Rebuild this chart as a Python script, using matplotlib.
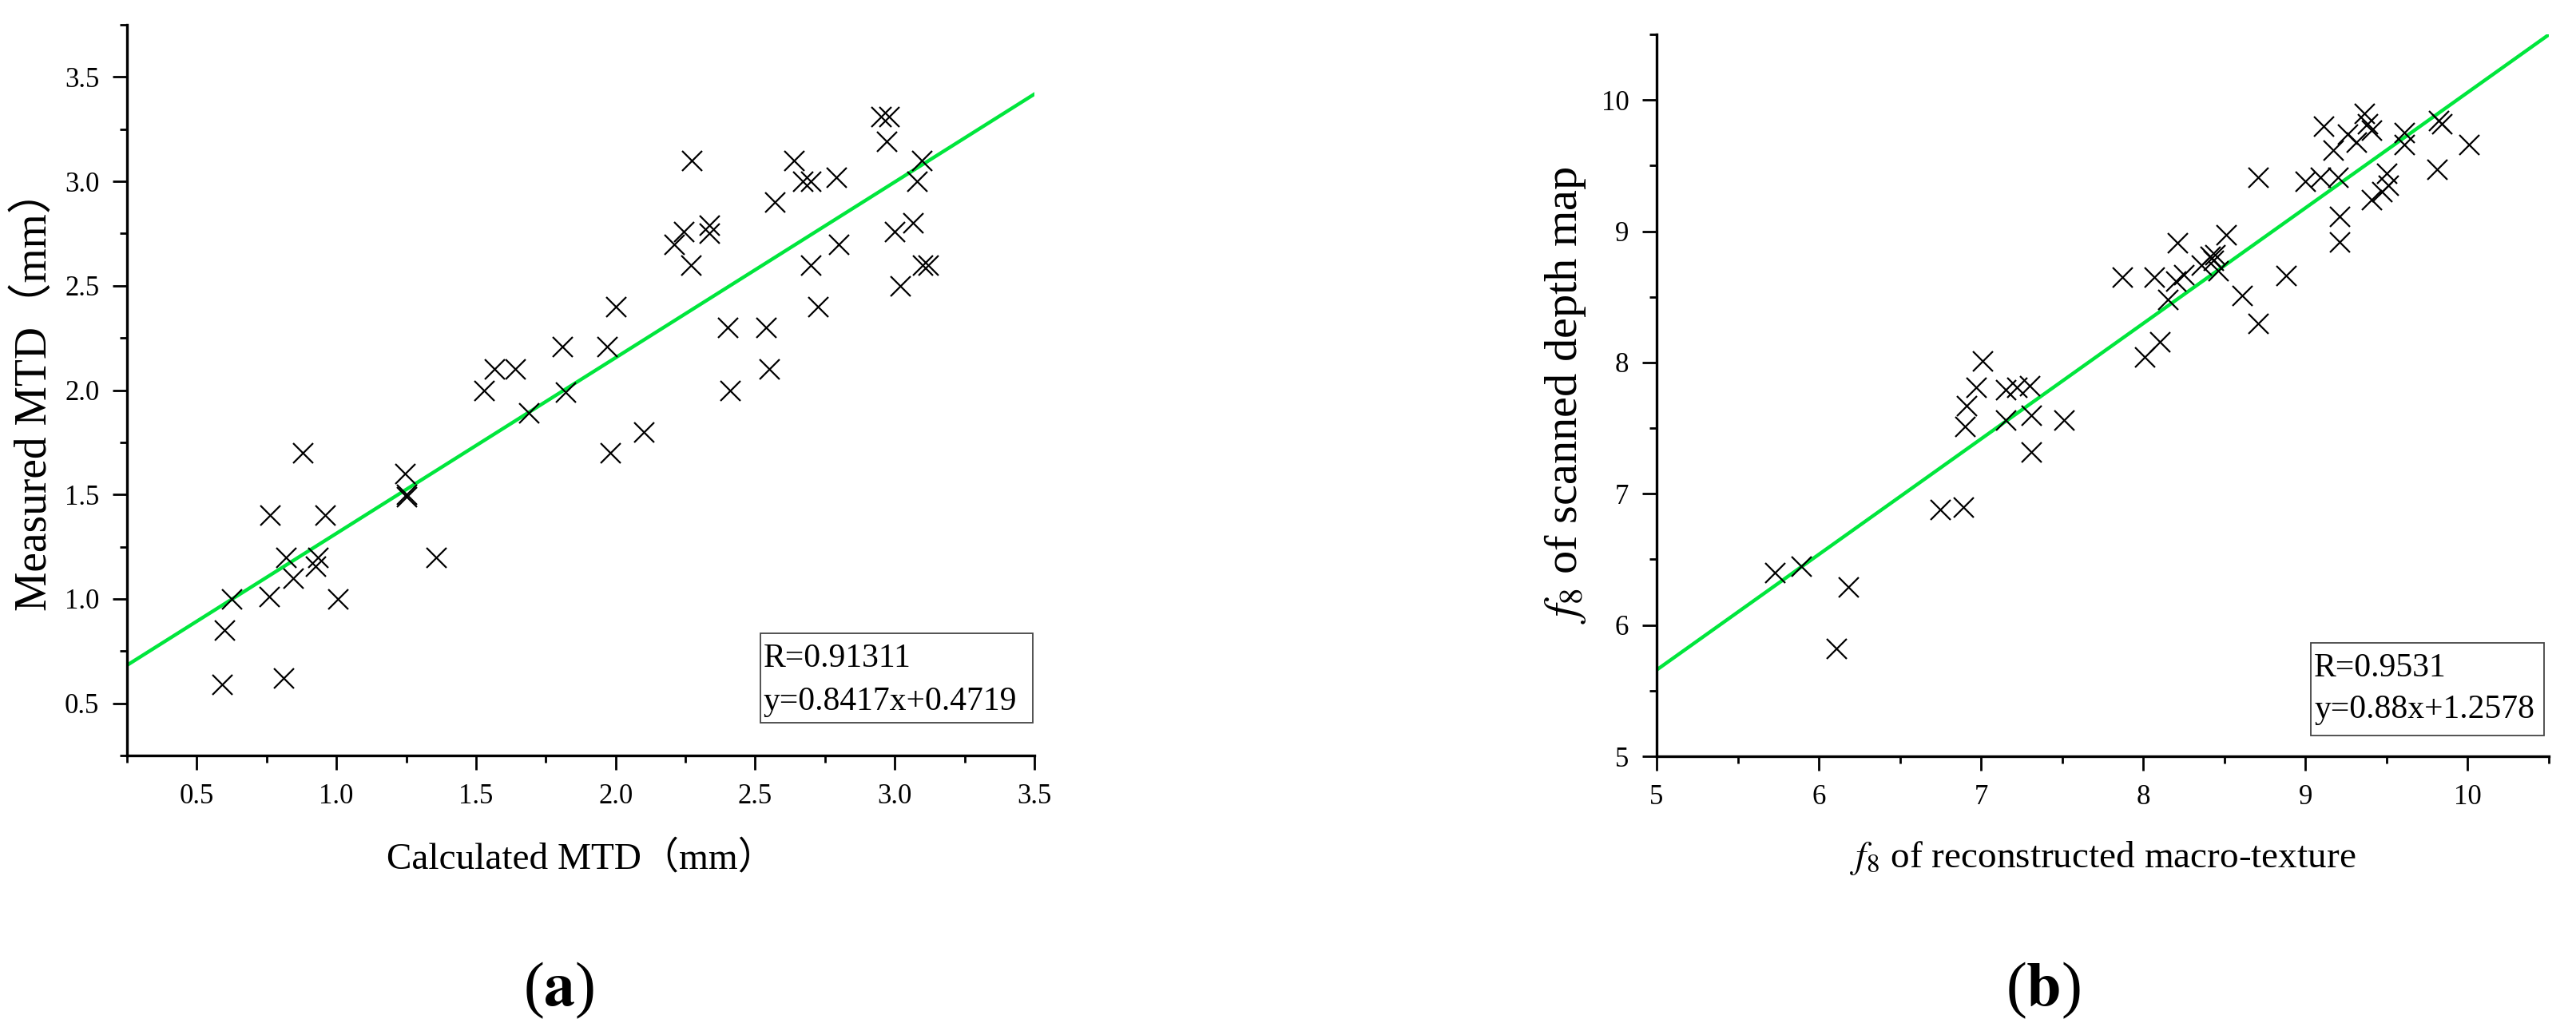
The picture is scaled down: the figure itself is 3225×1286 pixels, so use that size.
import matplotlib
matplotlib.use("Agg")
import matplotlib.pyplot as plt
from matplotlib.ticker import MultipleLocator
from matplotlib.patches import Rectangle
import numpy as np

plt.rcParams['font.family'] = ['Liberation Serif', 'Noto Sans CJK SC']
plt.rcParams['mathtext.fontset'] = 'stix'

# panel (a): calculated vs measured MTD
calc_mtd = [0.59, 0.81, 0.60, 0.625, 0.76, 1.005, 0.845, 0.926, 0.82, 0.935,
            1.356, 0.763, 0.96, 1.25, 1.25, 1.246, 0.88, 1.98, 2.10, 1.69,
            1.53, 1.82, 2.41, 1.565, 1.64, 2.55, 1.81, 1.97, 2.40, 2.54,
            2.00, 2.725, 3.02, 2.27, 2.70, 3.10, 3.12, 2.21, 2.80, 2.245,
            2.335, 2.335, 3.00, 3.065, 2.57, 2.67, 2.70, 2.79, 3.08, 2.273,
            2.64, 3.098, 2.95, 2.98, 2.97]
meas_mtd = [0.59, 0.62, 0.85, 1.00, 1.01, 1.00, 1.10, 1.155, 1.20, 1.20,
            1.20, 1.40, 1.40, 1.49, 1.50, 1.60, 1.70, 1.70, 1.80, 1.89,
            2.00, 1.99, 2.00, 2.10, 2.10, 2.10, 2.21, 2.21, 2.30, 2.30,
            2.40, 2.40, 2.50, 2.60, 2.60, 2.60, 2.60, 2.70, 2.70, 2.76,
            2.75, 2.79, 2.76, 2.80, 2.90, 3.00, 3.00, 3.02, 3.00, 3.10,
            3.10, 3.10, 3.31, 3.31, 3.19]
fit_a = (0.8417, 0.4719)
text_a = ["R=0.91311", "y=0.8417x+0.4719"]

# panel (b): f8 reconstructed vs scanned
f8_recon = [5.73, 5.89, 6.11, 6.18, 6.75, 6.89, 6.90, 6.91, 6.97, 7.01,
            7.15, 7.15, 7.22, 7.30, 7.31, 7.31, 7.51, 7.87, 8.01, 8.07,
            8.10, 8.15, 8.20, 8.21, 8.25, 8.36, 8.41, 8.44, 8.43, 8.46,
            8.51, 8.61, 8.71, 8.71, 8.88, 9.00, 9.09, 9.11, 9.17, 9.20,
            9.21, 9.21, 9.26, 9.315, 9.365, 9.38, 9.405, 9.405, 9.47, 9.50,
            9.51, 9.61, 9.61, 9.82, 9.84, 9.81, 10.01]
f8_scan = [6.40, 6.45, 5.82, 6.29, 6.88, 6.90, 7.51, 7.67, 7.81, 8.01,
           7.56, 7.79, 7.81, 7.82, 7.60, 7.32, 7.56, 8.65, 8.04, 8.65,
           8.16, 8.48, 8.62, 8.91, 8.67, 8.74, 8.81, 8.82, 8.78, 8.70,
           8.97, 8.51, 8.30, 9.41, 8.66, 9.38, 9.41, 9.80, 9.62, 9.41,
           9.11, 8.92, 9.74, 9.68, 9.90, 9.82, 9.77, 9.24, 9.30, 9.44,
           9.35, 9.75, 9.66, 9.84, 9.82, 9.47, 9.66]
fit_b = (0.88, 1.2578)
text_b = ["R=0.9531", "y=0.88x+1.2578"]

W, H = 3225, 1286
fig = plt.figure(figsize=(W / 100, H / 100), dpi=100)

green = '#00e63c'
tick_fs = 25
box_fs = 30


def style_axes(ax, major, minor):
    for s in ['top', 'right']:
        ax.spines[s].set_visible(False)
    for s in ['left', 'bottom']:
        ax.spines[s].set_linewidth(2.4)
    ax.xaxis.set_major_locator(MultipleLocator(major[0]))
    ax.xaxis.set_minor_locator(MultipleLocator(minor[0]))
    ax.yaxis.set_major_locator(MultipleLocator(major[1]))
    ax.yaxis.set_minor_locator(MultipleLocator(minor[1]))
    ax.tick_params(which='major', direction='out', length=13, width=2,
                   labelsize=tick_fs, pad=12)
    ax.tick_params(which='minor', direction='out', length=6.5, width=2)


def stat_box(ax, rect, lines, pos):
    ax.add_patch(Rectangle((rect[0], rect[1]), rect[2], rect[3],
                           transform=ax.transAxes, fill=False,
                           edgecolor='#444444', lw=1.3, zorder=5))
    for (tx, ty), s in zip(pos, lines):
        ax.text(tx, ty, s, transform=ax.transAxes, fontsize=box_fs,
                ha='left', va='center', zorder=6)


# (a)
ax1 = fig.add_axes([159 / W, 1 - 946 / H, (1295 - 159) / W, (946 - 31) / H])
ax1.plot(calc_mtd, meas_mtd, 'x', color='black', ms=18, mew=1.6, zorder=3)
xs = np.array([0.25, 3.5])
ax1.plot(xs, fit_a[0] * xs + fit_a[1], color=green, lw=3.2, zorder=2)
ax1.set_xlim(0.25, 3.5)
ax1.set_ylim(0.25, 3.75)
style_axes(ax1, (0.5, 0.5), (0.25, 0.25))
ax1.set_xticks([0.5, 1.0, 1.5, 2.0, 2.5, 3.0, 3.5])
ax1.set_yticks([0.5, 1.0, 1.5, 2.0, 2.5, 3.0, 3.5])
ax1.xaxis.set_major_formatter(plt.FormatStrFormatter('%.1f'))
ax1.yaxis.set_major_formatter(plt.FormatStrFormatter('%.1f'))
ax1.set_xlabel('Calculated MTD（mm）', fontsize=34, labelpad=28)
ax1.set_ylabel('Measured MTD（mm）', fontsize=40, labelpad=8)
stat_box(ax1, (0.698, 0.045, 0.30, 0.122), text_a,
         [(0.701, 0.132), (0.701, 0.073)])

# (b)
ax2 = fig.add_axes([2074 / W, 1 - 947 / H, (3191 - 2074) / W, (947 - 43) / H])
ax2.plot(f8_recon, f8_scan, 'x', color='black', ms=18, mew=1.6, zorder=3)
xs = np.array([5.0, 10.5])
ax2.plot(xs, fit_b[0] * xs + fit_b[1], color=green, lw=3.2, zorder=2)
ax2.set_xlim(5, 10.5)
ax2.set_ylim(5, 10.5)
style_axes(ax2, (1, 1), (0.5, 0.5))
ax2.set_xticks([5, 6, 7, 8, 9, 10])
ax2.set_yticks([5, 6, 7, 8, 9, 10])
ax2.set_xlabel(r'$f_8$ of reconstructed macro-texture', fontsize=34,
               labelpad=26)
ax2.set_ylabel(r'$f_8$ of scanned depth map', fontsize=42, labelpad=12)
stat_box(ax2, (0.733, 0.029, 0.262, 0.128), text_b,
         [(0.737, 0.122), (0.737, 0.064)])

fig.text(700 / W, 1 - 1240 / H, r'($\mathbf{a}$)', fontsize=56,
         ha='center', va='center')
fig.text(2558 / W, 1 - 1240 / H, r'($\mathbf{b}$)', fontsize=56,
         ha='center', va='center')

fig.savefig('out.png', dpi=100)
